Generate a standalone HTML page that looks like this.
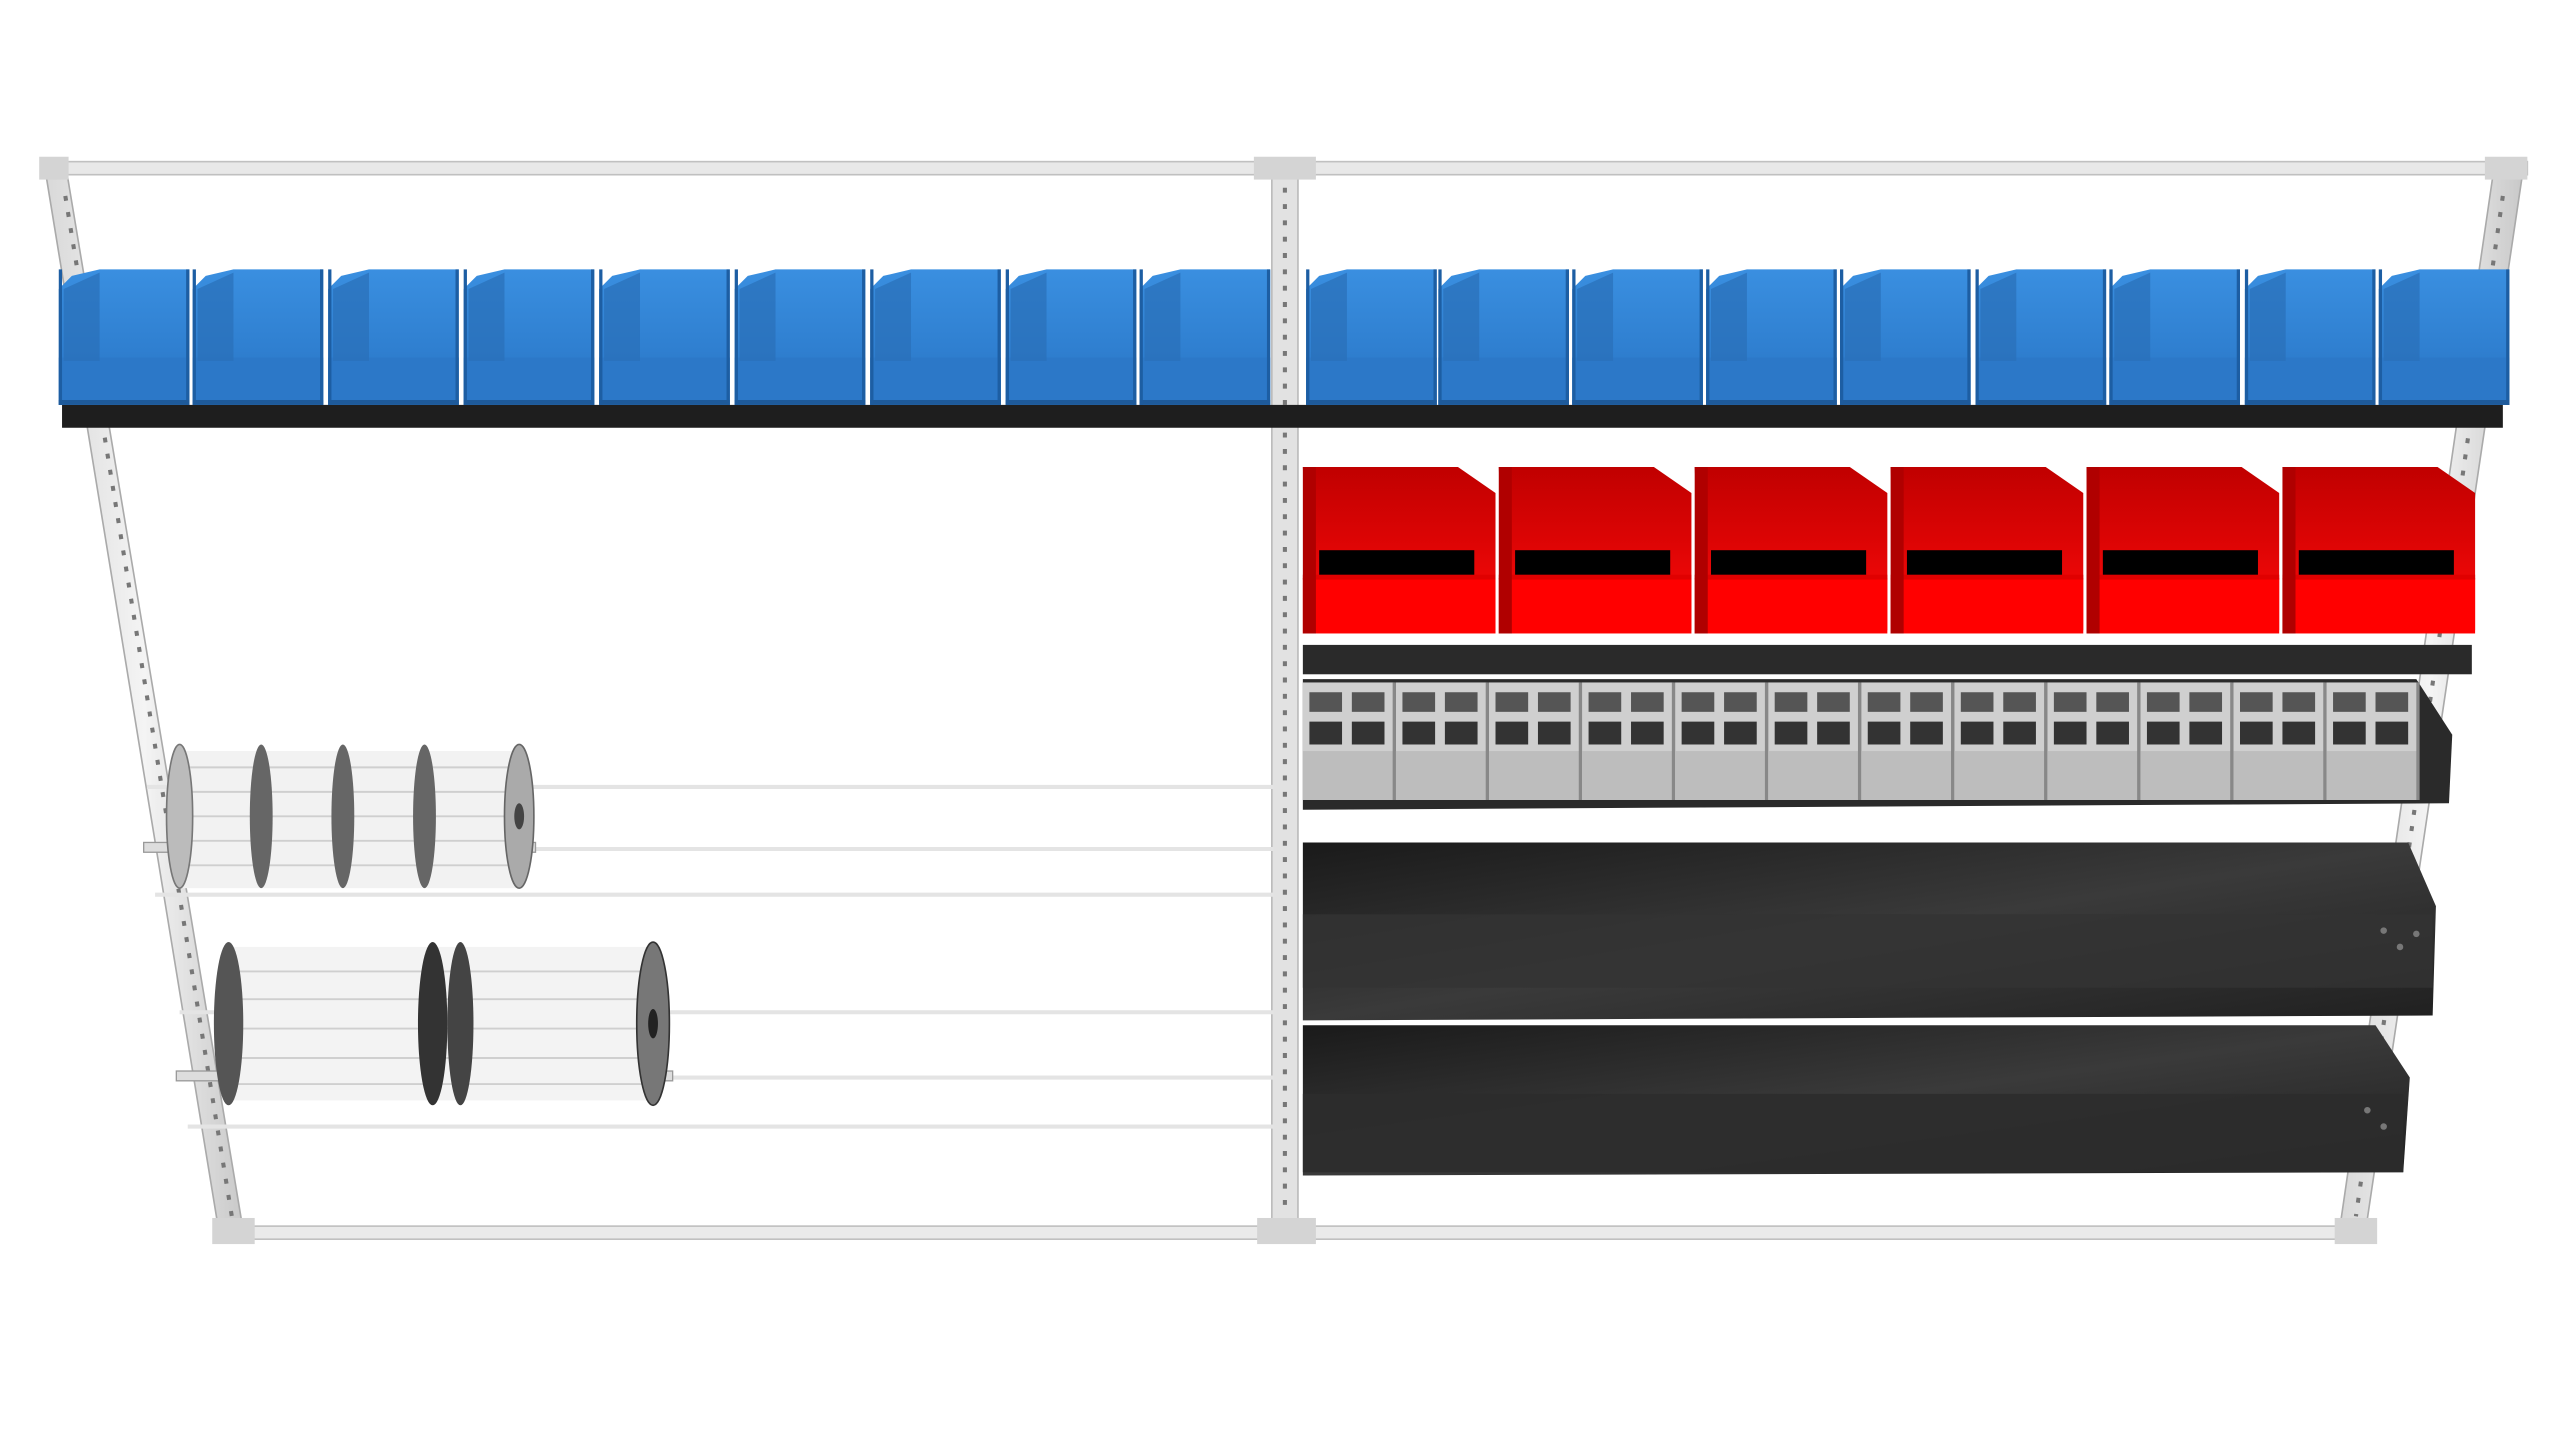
<!DOCTYPE html>
<html><head><meta charset="utf-8"><style>
html,body{margin:0;padding:0;background:#fff;width:2560px;height:1440px;overflow:hidden}
svg{display:block}
</style></head><body>
<svg width="2560" height="1440" viewBox="0 0 1568 882" preserveAspectRatio="none" xmlns="http://www.w3.org/2000/svg">
<defs>
<linearGradient id="blue" x1="0" y1="0" x2="0" y2="1"><stop offset="0" stop-color="#3a8fe0"/><stop offset="0.6" stop-color="#2f7fd0"/><stop offset="1" stop-color="#2a70bb"/></linearGradient>
<linearGradient id="red" x1="0" y1="0" x2="0" y2="1"><stop offset="0" stop-color="#c00000"/><stop offset="1" stop-color="#ff0a0a"/></linearGradient>
<linearGradient id="dark" x1="0" y1="0" x2="1" y2="1"><stop offset="0" stop-color="#1a1a1a"/><stop offset="0.5" stop-color="#3a3a3a"/><stop offset="1" stop-color="#202020"/></linearGradient>
<linearGradient id="rail" x1="0" y1="0" x2="1" y2="0"><stop offset="0" stop-color="#d8d8d8"/><stop offset="0.5" stop-color="#f4f4f4"/><stop offset="1" stop-color="#c8c8c8"/></linearGradient>
<g id="bb">
<path d="M0,16 L8,8 L25,4 L80,4 L80,87 L0,87 Z" fill="url(#blue)"/>
<rect x="0" y="58" width="80" height="29" fill="#2c78c8"/>
<path d="M3,16 L25,6 L25,60 L3,60Z" fill="#2a6fb8" opacity=".7"/>
<rect x="0" y="4" width="2" height="83" fill="#1d5ea3"/>
<rect x="78" y="4" width="2" height="83" fill="#1d5ea3"/>
<rect x="0" y="84" width="80" height="3" fill="#1e5a9a"/>
</g>
<g id="rb">
<path d="M0,4 L95,4 L118,20 L118,104 L4,104 Z" fill="url(#red)"/>
<rect x="10" y="55" width="95" height="18" fill="#000"/>
<rect x="0" y="72" width="118" height="34" fill="#ff0000"/>
<rect x="0" y="70" width="118" height="3" fill="#e00000"/>
<path d="M0,4 L8,4 L8,106 L0,106Z" fill="#b00000"/>
</g>
<g id="gc">
<rect x="0" y="0" width="56" height="72" fill="#cfcfcf"/>
<rect x="4" y="6" width="20" height="12" fill="#555"/>
<rect x="30" y="6" width="20" height="12" fill="#555"/>
<rect x="4" y="24" width="20" height="14" fill="#333"/>
<rect x="30" y="24" width="20" height="14" fill="#333"/>
<rect x="0" y="42" width="56" height="30" fill="#bdbdbd"/>
<rect x="55" y="0" width="2" height="72" fill="#888"/>
</g>
</defs>

<!-- frame -->
<polygon points="27,100 40,100 150,760 135,760" fill="url(#rail)" stroke="#aaa" stroke-width="1"/>
<polygon points="1528,100 1546,100 1448,760 1432,760" fill="url(#rail)" stroke="#aaa" stroke-width="1"/>
<rect x="779" y="100" width="16" height="660" fill="#e2e2e2" stroke="#bbb" stroke-width="1"/>
<rect x="28" y="99" width="1520" height="8" fill="#e8e8e8" stroke="#c0c0c0" stroke-width="1"/>
<rect x="135" y="751" width="1310" height="8" fill="#eaeaea" stroke="#c0c0c0" stroke-width="1"/>
<rect x="24" y="96" width="18" height="14" fill="#d4d4d4"/>
<rect x="1522" y="96" width="26" height="14" fill="#d4d4d4"/>
<rect x="768" y="96" width="38" height="14" fill="#d4d4d4"/>
<rect x="130" y="746" width="26" height="16" fill="#d4d4d4"/>
<rect x="1430" y="746" width="26" height="16" fill="#d4d4d4"/>
<rect x="770" y="746" width="36" height="16" fill="#d4d4d4"/>
<line x1="40" y1="120" x2="142" y2="745" stroke="#777" stroke-width="2.5" stroke-dasharray="3 7"/>
<line x1="1533" y1="120" x2="1443" y2="745" stroke="#777" stroke-width="2.5" stroke-dasharray="3 7"/>
<line x1="787" y1="115" x2="787" y2="745" stroke="#777" stroke-width="2.5" stroke-dasharray="3 7"/>

<!-- blue shelf -->
<rect x="38" y="248" width="1495" height="14" fill="#1e1e1e"/>
<use href="#bb" x="36" y="161"/><use href="#bb" x="118" y="161"/><use href="#bb" x="201" y="161"/>
<use href="#bb" x="284" y="161"/><use href="#bb" x="367" y="161"/><use href="#bb" x="450" y="161"/>
<use href="#bb" x="533" y="161"/><use href="#bb" x="616" y="161"/><use href="#bb" x="698" y="161"/>
<use href="#bb" x="800" y="161"/><use href="#bb" x="881" y="161"/><use href="#bb" x="963" y="161"/>
<use href="#bb" x="1045" y="161"/><use href="#bb" x="1127" y="161"/><use href="#bb" x="1210" y="161"/>
<use href="#bb" x="1292" y="161"/><use href="#bb" x="1375" y="161"/><use href="#bb" x="1457" y="161"/>

<!-- red shelf -->
<rect x="798" y="395" width="716" height="18" fill="#2a2a2a"/>
<use href="#rb" x="798" y="282"/><use href="#rb" x="918" y="282"/><use href="#rb" x="1038" y="282"/>
<use href="#rb" x="1158" y="282"/><use href="#rb" x="1278" y="282"/><use href="#rb" x="1398" y="282"/>

<!-- gray tray -->
<polygon points="798,416 1480,416 1502,450 1500,492 798,496" fill="#2a2a2a"/>
<use href="#gc" x="798" y="418"/><use href="#gc" x="855" y="418"/><use href="#gc" x="912" y="418"/>
<use href="#gc" x="969" y="418"/><use href="#gc" x="1026" y="418"/><use href="#gc" x="1083" y="418"/>
<use href="#gc" x="1140" y="418"/><use href="#gc" x="1197" y="418"/><use href="#gc" x="1254" y="418"/>
<use href="#gc" x="1311" y="418"/><use href="#gc" x="1368" y="418"/><use href="#gc" x="1425" y="418"/>

<!-- dark trays -->
<polygon points="798,516 1475,516 1492,555 1490,622 798,625" fill="url(#dark)"/>
<rect x="798" y="560" width="692" height="45" fill="#333" opacity=".8"/>
<polygon points="798,628 1455,628 1476,660 1472,718 798,720" fill="url(#dark)"/>
<rect x="798" y="670" width="674" height="48" fill="#2c2c2c" opacity=".9"/>
<g fill="#777"><circle cx="1460" cy="570" r="2"/><circle cx="1470" cy="580" r="2"/><circle cx="1480" cy="572" r="2"/><circle cx="1450" cy="680" r="2"/><circle cx="1460" cy="690" r="2"/></g>

<!-- rods -->
<g stroke="#e4e4e4" stroke-width="2.5" fill="none">
<line x1="90" y1="482" x2="780" y2="482"/><line x1="90" y1="520" x2="780" y2="520"/><line x1="95" y1="548" x2="780" y2="548"/>
<line x1="110" y1="620" x2="780" y2="620"/><line x1="110" y1="660" x2="780" y2="660"/><line x1="115" y1="690" x2="780" y2="690"/>
</g>
<rect x="88" y="516" width="240" height="6" fill="#ddd" stroke="#999" stroke-width=".8"/>
<rect x="108" y="656" width="304" height="6" fill="#ddd" stroke="#999" stroke-width=".8"/>

<!-- spools row 1 -->
<g>
<rect x="108" y="460" width="212" height="84" fill="#f2f2f2"/>
<g stroke="#cfcfcf" stroke-width="1.2"><line x1="110" y1="470" x2="318" y2="470"/><line x1="110" y1="485" x2="318" y2="485"/><line x1="110" y1="500" x2="318" y2="500"/><line x1="110" y1="515" x2="318" y2="515"/><line x1="110" y1="530" x2="318" y2="530"/></g>
<ellipse cx="110" cy="500" rx="8" ry="44" fill="#bbb" stroke="#777"/>
<ellipse cx="160" cy="500" rx="7" ry="44" fill="#666"/>
<ellipse cx="210" cy="500" rx="7" ry="44" fill="#666"/>
<ellipse cx="260" cy="500" rx="7" ry="44" fill="#666"/>
<ellipse cx="318" cy="500" rx="9" ry="44" fill="#aaa" stroke="#666"/>
<ellipse cx="318" cy="500" rx="3" ry="8" fill="#444"/>
</g>
<!-- spools row 2 -->
<g>
<rect x="138" y="580" width="265" height="94" fill="#f3f3f3"/>
<g stroke="#cfcfcf" stroke-width="1.2"><line x1="140" y1="595" x2="400" y2="595"/><line x1="140" y1="612" x2="400" y2="612"/><line x1="140" y1="630" x2="400" y2="630"/><line x1="140" y1="648" x2="400" y2="648"/><line x1="140" y1="664" x2="400" y2="664"/></g>
<ellipse cx="140" cy="627" rx="9" ry="50" fill="#555"/>
<ellipse cx="265" cy="627" rx="9" ry="50" fill="#333"/>
<ellipse cx="282" cy="627" rx="8" ry="50" fill="#444"/>
<ellipse cx="400" cy="627" rx="10" ry="50" fill="#777" stroke="#333"/>
<ellipse cx="400" cy="627" rx="3" ry="9" fill="#222"/>
</g>
</svg>
</body></html>
